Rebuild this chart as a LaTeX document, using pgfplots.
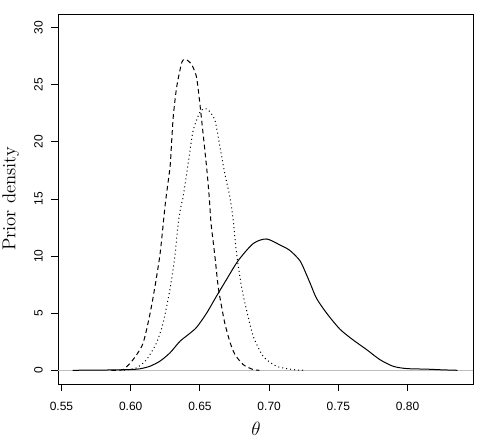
\documentclass[border=0pt]{standalone}
\usepackage{fontspec}
\newfontfamily\helv{Liberation Sans}
\usepackage{pgfplots}
\pgfplotsset{compat=1.18}
\definecolor{rgray}{RGB}{190,190,190}
\begin{document}
\begin{tikzpicture}
\useasboundingbox (-43.5pt,-40.5pt) rectangle (315pt,288pt);
\begin{axis}[
  at={(0,0)}, anchor=south west,
  scale only axis, width=311.25pt, height=277.5pt,
  xmin=0.5475, xmax=0.8472, ymin=-1.2, ymax=31.2,
  xtick={0.55,0.60,0.65,0.70,0.75,0.80},
  ytick={0,5,10,15,20,25,30},
  tick align=outside, xtick pos=left, ytick pos=left,
  major tick length=5.25pt,
  tick style={black, line width=0.7pt},
  axis line style={black, line width=0.7pt},
  x tick label style={/pgf/number format/fixed, /pgf/number format/fixed zerofill, /pgf/number format/precision=2},
  /pgf/number format/assume math mode=true,
  tick label style={font=\helv\fontsize{9}{10}\selectfont},
  yticklabel style={rotate=90, anchor=south, inner sep=0pt},
  xticklabel style={anchor=north, inner sep=0pt},
  xticklabel shift=8.25pt, yticklabel shift=6pt,
  xlabel={$\theta$}, ylabel={Prior density},
  xlabel style={at={(axis description cs:0.477,-0.138)}, anchor=base, inner sep=0pt, font=\fontsize{14}{16}\selectfont},
  ylabel style={at={(axis description cs:-0.103,0.5)}, anchor=base, inner sep=0pt, font=\fontsize{14}{16}\selectfont},
]
\addplot[rgray, line width=0.75pt] coordinates {(0.5475,0) (0.8472,0)};
% solid
\addplot[black, line width=0.75pt, smooth, tension=0.45] coordinates {
(0.558,0) (0.570,0.01) (0.580,0.02) (0.590,0.04) (0.600,0.07) (0.6066,0.13)
(0.6138,0.35) (0.621,0.79) (0.6283,1.52) (0.6355,2.53) (0.6415,3.12) (0.6475,3.75)
(0.6548,5.0) (0.662,6.5) (0.6692,7.95) (0.6776,9.6) (0.6885,11.1) (0.698,11.5)
(0.7077,10.98) (0.7149,10.5) (0.7222,9.6) (0.7265,8.5) (0.7300,7.5) (0.7342,6.3)
(0.7415,5.0) (0.7511,3.6) (0.7607,2.65) (0.7704,1.81) (0.780,0.93) (0.7896,0.35)
(0.7993,0.15) (0.8137,0.1) (0.825,0.04) (0.836,0)
};
% dashed
\addplot[black, line width=0.75pt, smooth, tension=0.4, dash pattern=on 3.5pt off 2.5pt] coordinates {
(0.586,0) (0.5945,0.06) (0.6017,0.93) (0.609,2.4) (0.615,5.6) (0.621,10.0)
(0.625,14.6) (0.6284,17.8) (0.6296,20.1) (0.6308,22.3) (0.6332,24.8) (0.637,27.0)
(0.640,27.2) (0.6439,26.8) (0.6475,25.7) (0.6499,23.4) (0.6523,20.7) (0.6548,17.8)
(0.6567,15.2) (0.658,12.9) (0.6608,10.0) (0.6632,7.3) (0.6656,5.6) (0.668,4.1)
(0.6716,2.5) (0.6752,1.4) (0.6812,0.5) (0.6885,0.06) (0.693,0)
};
% dotted
\addplot[black, line width=0.75pt, smooth, tension=0.4, dash pattern=on 0.75pt off 2.25pt] coordinates {
(0.595,0) (0.604,0.2) (0.6114,0.93) (0.6186,2.39) (0.6234,4.14) (0.6283,7.05)
(0.6319,9.96) (0.6343,12.9) (0.6367,14.6) (0.6379,15.2) (0.6415,18.1) (0.6451,21.0)
(0.650,22.6) (0.653,22.9) (0.656,22.8) (0.6608,21.9) (0.6644,19.6) (0.668,17.2)
(0.6716,15.2) (0.674,13.2) (0.6764,10.25) (0.680,7.34) (0.6836,5.3) (0.6885,2.97)
(0.6957,1.22) (0.7053,0.35) (0.7173,0.06) (0.725,0)
};
\end{axis}
\end{tikzpicture}
\end{document}
